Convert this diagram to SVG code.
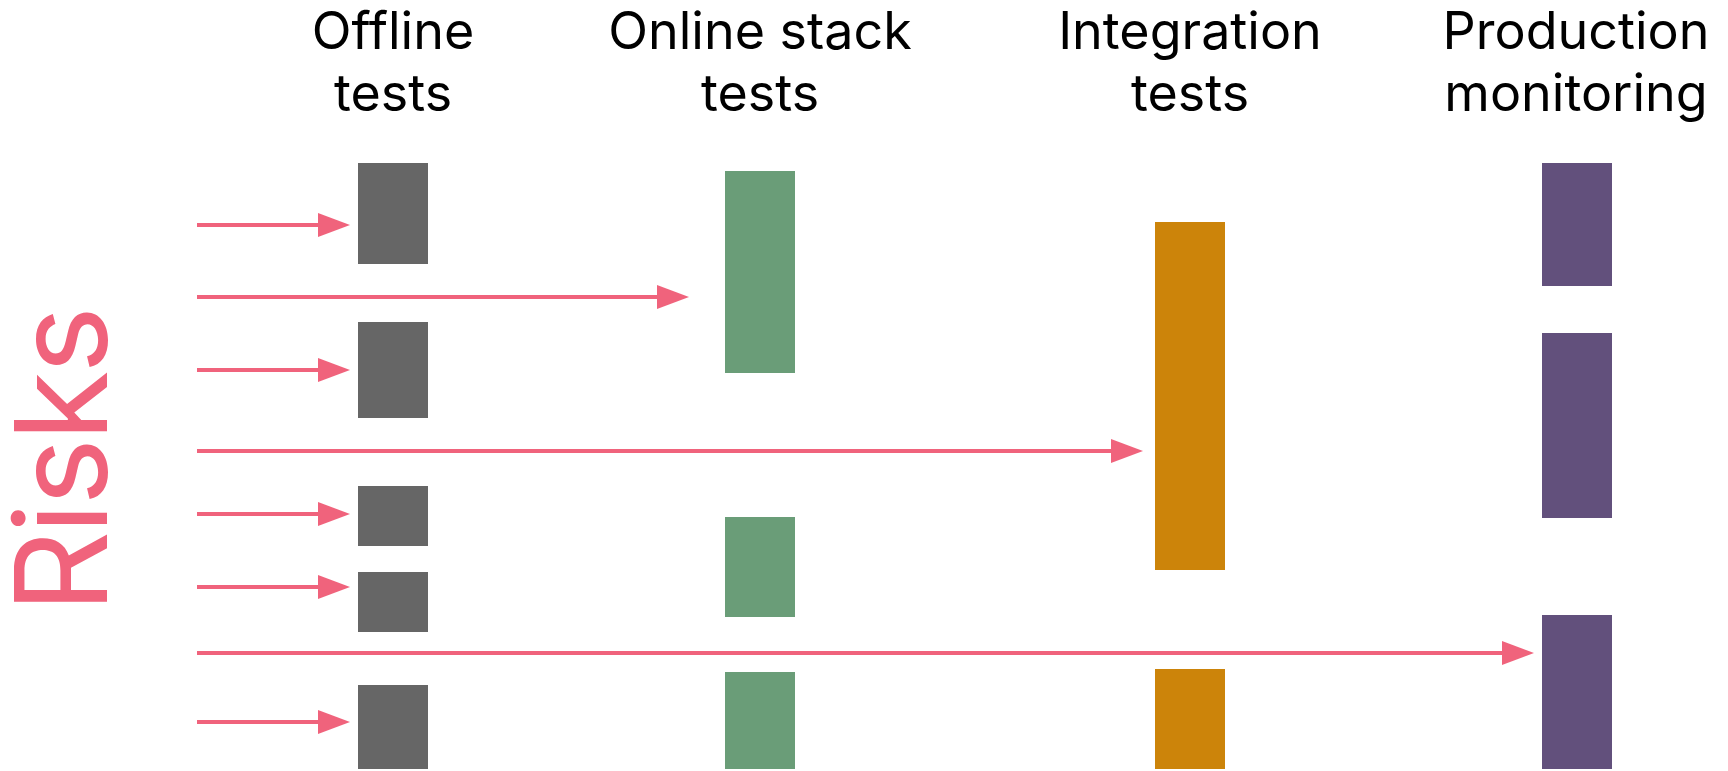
<svg xmlns="http://www.w3.org/2000/svg" width="1728" height="771" viewBox="0 0 1728 771">
  <style>
    .title { font-family: Inter, "Liberation Sans", sans-serif; font-size: 52px; fill: #000000; text-anchor: middle; }
    .risks { font-family: Inter, "Liberation Sans", sans-serif; font-size: 128px; letter-spacing: -3px; fill: #f0637c; }
    .offline { fill: #666666; }
    .online { fill: #6a9d78; }
    .integration { fill: #cc840a; }
    .production { fill: #62507c; }
    .risk { stroke: #f0637c; stroke-width: 4; fill: none; marker-end: url(#head); }
  </style>
  <defs>
    <!-- arrowhead starts where the line stops, tip 32px further on -->
    <marker id="head" markerUnits="userSpaceOnUse" markerWidth="32" markerHeight="24" refX="0" refY="12" orient="auto" overflow="visible">
      <path d="M0,0 L32,12 L0,24 Z" fill="#f0637c"/>
    </marker>
  </defs>
  <rect width="1728" height="771" fill="#ffffff"/>

  <!-- column headings -->
  <g id="heading-offline">
    <text class="title" x="393" y="49">Offline</text>
    <text class="title" x="393" y="111">tests</text>
  </g>
  <g id="heading-online">
    <text class="title" x="760" y="49">Online stack</text>
    <text class="title" x="760" y="111">tests</text>
  </g>
  <g id="heading-integration">
    <text class="title" x="1190" y="49">Integration</text>
    <text class="title" x="1190" y="111">tests</text>
  </g>
  <g id="heading-production">
    <text class="title" x="1576" y="49">Production</text>
    <text class="title" x="1576" y="111">monitoring</text>
  </g>

  <!-- vertical axis label -->
  <g id="risks-label">
    <text class="risks" transform="translate(107,613) rotate(-90)">Risks</text>
  </g>

  <!-- offline test barriers -->
  <g id="offline-tests">
    <rect class="offline" x="358" y="163" width="70" height="101"/>
    <rect class="offline" x="358" y="322" width="70" height="96"/>
    <rect class="offline" x="358" y="486" width="70" height="60"/>
    <rect class="offline" x="358" y="572" width="70" height="60"/>
    <rect class="offline" x="358" y="685" width="70" height="84"/>
  </g>

  <!-- online stack test barriers -->
  <g id="online-tests">
    <rect class="online" x="725" y="171" width="70" height="202"/>
    <rect class="online" x="725" y="517" width="70" height="100"/>
    <rect class="online" x="725" y="672" width="70" height="97"/>
  </g>

  <!-- integration test barriers -->
  <g id="integration-tests">
    <rect class="integration" x="1155" y="222" width="70" height="348"/>
    <rect class="integration" x="1155" y="669" width="70" height="100"/>
  </g>

  <!-- production monitoring barriers -->
  <g id="production-monitoring">
    <rect class="production" x="1542" y="163" width="70" height="123"/>
    <rect class="production" x="1542" y="333" width="70" height="185"/>
    <rect class="production" x="1542" y="615" width="70" height="154"/>
  </g>

  <!-- risks travelling right until caught -->
  <g id="connectors">
    <line class="risk" x1="197" y1="225" x2="318" y2="225"/>
    <line class="risk" x1="197" y1="297" x2="657" y2="297"/>
    <line class="risk" x1="197" y1="370" x2="318" y2="370"/>
    <line class="risk" x1="197" y1="451" x2="1111" y2="451"/>
    <line class="risk" x1="197" y1="514" x2="318" y2="514"/>
    <line class="risk" x1="197" y1="587" x2="318" y2="587"/>
    <line class="risk" x1="197" y1="653" x2="1502" y2="653"/>
    <line class="risk" x1="197" y1="722" x2="318" y2="722"/>
  </g>
</svg>
